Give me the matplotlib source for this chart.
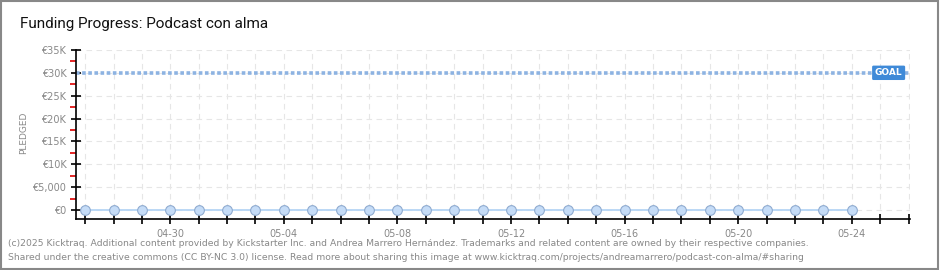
import matplotlib
matplotlib.use("Agg")
import matplotlib.pyplot as plt
import matplotlib.dates as mdates
import matplotlib.ticker as mticker
from matplotlib.patches import Rectangle

# Datos
fechas = [f"2025-04-{d:02d}" for d in range(27, 31)] + [f"2025-05-{d:02d}" for d in range(1, 25)]
pledged = [0] * len(fechas)
goal = 30000
titulo = "Funding Progress: Podcast con alma"
pie_1 = ("(c)2025 Kicktraq. Additional content provided by Kickstarter Inc. and Andrea Marrero Hernández. "
         "Trademarks and related content are owned by their respective companies.")
pie_2 = ("Shared under the creative commons (CC BY-NC 3.0) license. Read more about sharing this image at "
         "www.kicktraq.com/projects/andreamarrero/podcast-con-alma/#sharing")

COLOR_TEXTO = "#888888"
COLOR_GRID = "#e6e6e6"
COLOR_GOAL = "#8db3e2"

x = mdates.datestr2num(fechas)
x0 = mdates.datestr2num("2025-04-27")

fig = plt.figure(figsize=(9.4, 2.7), dpi=100)
fig.patch.set_facecolor("white")
fig.add_artist(Rectangle((0.001, 0.002), 0.997, 0.995, transform=fig.transFigure,
                         fill=False, edgecolor="#888888", linewidth=1.5))

ax = fig.add_axes([0.0809, 0.189, 0.8871, 0.626])
ax.set_xlim(x0 - 0.32, x0 + 29.05)
ax.set_ylim(-1969, 35000)

# Grid discontinuo suave
ax.xaxis.set_major_locator(mdates.DayLocator())
ax.yaxis.set_major_locator(mticker.MultipleLocator(5000))
ax.yaxis.set_minor_locator(mticker.FixedLocator([2500, 7500, 12500, 17500, 22500, 27500, 32500]))
ax.grid(True, which="major", color=COLOR_GRID, linestyle=(0, (5, 4)), linewidth=0.8)
ax.set_axisbelow(True)

# Linea de meta
ax.axhline(goal, color=COLOR_GOAL, linewidth=2.6, linestyle=(0, (1, 0.7)), zorder=2)
ax.text(x0 + 28.3, goal, "GOAL", color="white", fontsize=6.5, fontweight="bold",
        ha="center", va="center", zorder=4,
        bbox=dict(boxstyle="round,pad=0.3,rounding_size=0.15", fc="#3f8ad8", ec="none"))

# Serie
ax.plot(x, pledged, color="#b5d5f5", linewidth=1.3, marker="o", markersize=7,
        markerfacecolor="#c5dcf7", markeredgecolor="#8fabd0", markeredgewidth=0.8,
        zorder=3, clip_on=False)

# Ejes
for s in ("top", "right"):
    ax.spines[s].set_visible(False)
for s in ("left", "bottom"):
    ax.spines[s].set_color("black")
    ax.spines[s].set_linewidth(1.2)


def fmt_y(v, _pos):
    if v == 0:
        return "€0"
    if v == 5000:
        return "€5,000"
    return f"€{int(v / 1000)}K"


ax.yaxis.set_major_formatter(mticker.FuncFormatter(fmt_y))
ax.xaxis.set_major_formatter(mticker.FuncFormatter(
    lambda v, _p: mdates.num2date(v).strftime("%m-%d") if (round(v - x0) % 4 == 3) else ""))
ax.tick_params(axis="y", which="major", direction="inout", length=7, width=1.2,
               colors="black", labelcolor=COLOR_TEXTO, labelsize=7)
ax.tick_params(axis="y", which="minor", direction="out", length=4, width=1.2, colors="#dd0000")
ax.tick_params(axis="x", which="major", direction="inout", length=7, width=1.2,
               colors="black", labelcolor=COLOR_TEXTO, labelsize=7, pad=4)

ax.set_ylabel("PLEDGED", color=COLOR_TEXTO, fontsize=6.5)
ax.yaxis.set_label_coords(-0.057, 0.51)

fig.text(0.021, 0.91, titulo, fontsize=11, color="#111111", ha="left", va="center",
         family="Roboto")
fig.text(0.008, 0.1, pie_1, fontsize=6.65, color="#888888", ha="left", va="center")
fig.text(0.008, 0.048, pie_2, fontsize=6.65, color="#888888", ha="left", va="center")

fig.savefig("out.png", dpi=100)
